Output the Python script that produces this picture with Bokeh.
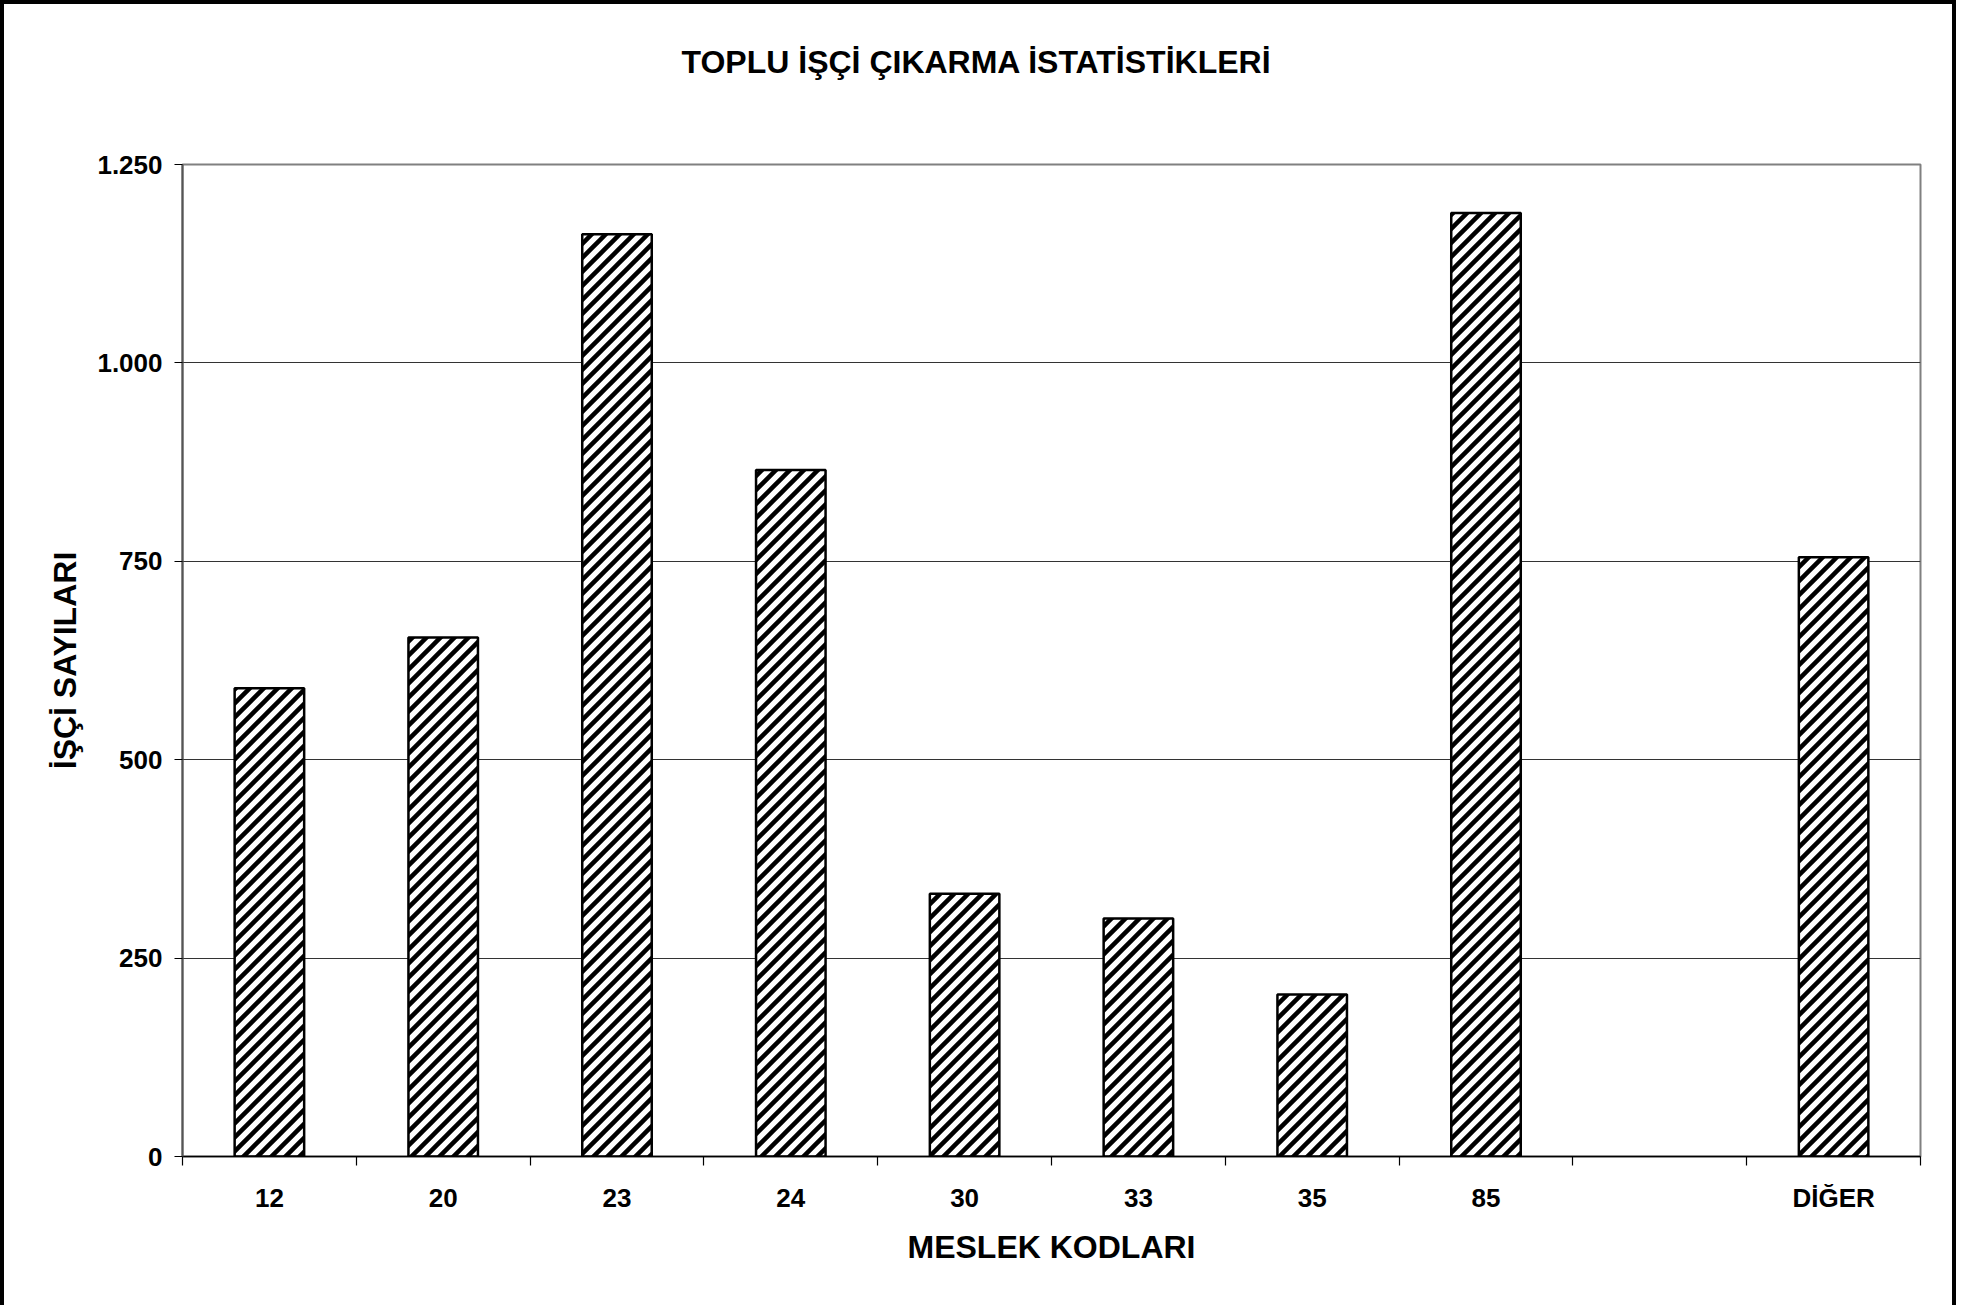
import base64
from bokeh.plotting import figure
from bokeh.models import Range1d, FixedTicker, Title, ImageURLTexture
from bokeh.core.properties import value
from bokeh.embed import file_html
from bokeh.resources import INLINE

# ---- data ----
categories = ["12", "20", "23", "24", "30", "33", "35", "85", "", "DİĞER"]
values = [590, 654, 1162, 865, 331, 300, 204, 1189, 0, 755]
y_ticks = [0, 250, 500, 750, 1000, 1250]
y_tick_labels = ["0", "250", "500", "750", "1.000", "1.250"]
title_text = "TOPLU İŞÇİ ÇIKARMA İSTATİSTİKLERİ"
x_label = "MESLEK KODLARI"
y_label = "İŞÇİ SAYILARI"

FONT = "Liberation Sans"

idx = list(range(len(categories)))
bar_x = [i for i, v in zip(idx, values) if v > 0]
bar_top = [v for v in values if v > 0]

p = figure(
    width=1956, height=1305,
    x_range=Range1d(-0.5, len(categories) - 0.5),
    y_range=Range1d(0, 1250),
    output_backend="svg", toolbar_location=None,
    min_border_left=182, min_border_right=36,
    min_border_top=164, min_border_bottom=149,
    background_fill_color="white", border_fill_color=None,
    styles={"box-shadow": "inset 4px 4px 0 0 #000000, inset -4px 0 0 0 #000000",
            "background-color": "white"},
)

# spacer (closest to the frame) then the real title above it
p.add_layout(Title(text=" ", text_font_size="1px", standoff=82), "above")
p.add_layout(Title(text=title_text, align="left", text_font=FONT,
                   text_font_style="bold", text_font_size="32px",
                   text_color="black", standoff=0, offset=499), "above")

# 45-degree stripe tile used as hatch texture
tile_svg = ("<svg xmlns='http://www.w3.org/2000/svg' width='14' height='14'>"
            "<rect width='14' height='14' fill='white'/>"
            "<path d='M-7,7 L7,-7 M0,14 L14,0 M7,21 L21,7' stroke='black' "
            "stroke-width='4.5'/></svg>")
stripe = ImageURLTexture(url="data:image/svg+xml;base64," +
                         base64.b64encode(tile_svg.encode()).decode())

p.vbar(x=bar_x, top=bar_top, width=0.4, bottom=0,
       fill_color="white", line_color="black", line_width=2.5,
       hatch_extra={"diag": stripe}, hatch_pattern=value("diag"),
       hatch_color="black")

# x axis
xa = p.xaxis[0]
xa.ticker = FixedTicker(ticks=idx, minor_ticks=[i - 0.5 for i in range(len(categories) + 1)])
xa.major_label_overrides = {i: c for i, c in zip(idx, categories)}
xa.major_tick_line_color = None
xa.minor_tick_line_color = "black"
xa.minor_tick_line_width = 1.2
xa.minor_tick_in = 0
xa.minor_tick_out = 9
xa.axis_line_color = "black"
xa.axis_line_width = 1.5
xa.major_label_text_font = FONT
xa.major_label_text_font_style = "bold"
xa.major_label_text_font_size = "26px"
xa.major_label_text_color = "black"
xa.major_label_standoff = 17
xa.axis_label = x_label
xa.axis_label_text_font = FONT
xa.axis_label_text_font_style = "bold"
xa.axis_label_text_font_size = "32px"
xa.axis_label_text_color = "black"
xa.axis_label_standoff = 13

# y axis
ya = p.yaxis[0]
ya.ticker = FixedTicker(ticks=y_ticks, minor_ticks=[])
ya.major_label_overrides = {t: l for t, l in zip(y_ticks, y_tick_labels)}
ya.major_tick_line_color = "black"
ya.major_tick_line_width = 1.2
ya.major_tick_in = 0
ya.major_tick_out = 8
ya.axis_line_color = "#555555"
ya.axis_line_width = 2
ya.major_label_text_font = FONT
ya.major_label_text_font_style = "bold"
ya.major_label_text_font_size = "26px"
ya.major_label_text_color = "black"
ya.major_label_standoff = 12
ya.axis_label = y_label
ya.axis_label_text_font = FONT
ya.axis_label_text_font_style = "bold"
ya.axis_label_text_font_size = "32px"
ya.axis_label_text_color = "black"
ya.axis_label_standoff = 11

p.xgrid.visible = False
p.ygrid.ticker = FixedTicker(ticks=y_ticks[1:-1])
p.ygrid.grid_line_color = "#333333"
p.ygrid.grid_line_width = 1.2

p.outline_line_color = "#808080"
p.outline_line_width = 2

open("out.html", "w").write(file_html(p, INLINE))
